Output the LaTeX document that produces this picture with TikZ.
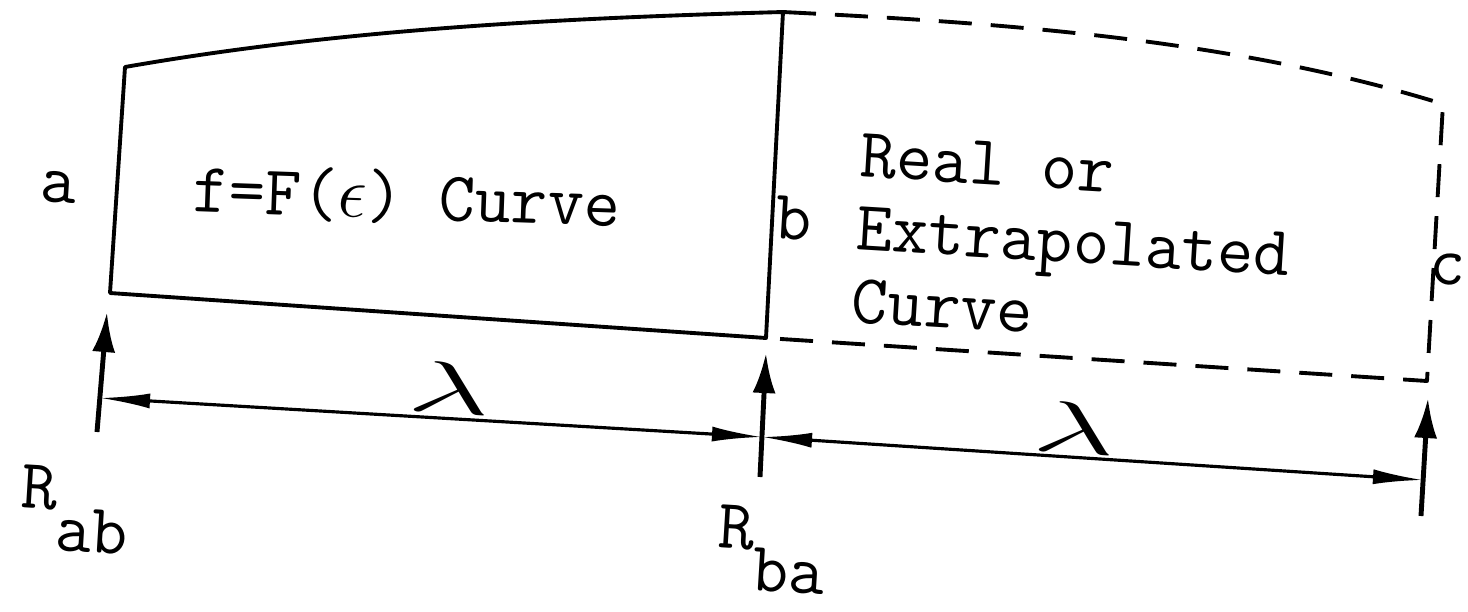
\documentclass[tikz,border=0pt]{standalone}
\usepackage{graphicx}
\usetikzlibrary{arrows.meta}
\begin{document}
\begin{tikzpicture}[
  x=0.01cm, y=0.01cm,
  font=\ttfamily\fontsize{20}{20.7}\selectfont,
  edge/.style={line width=1.1pt, line join=round},
  ext/.style={edge, dash pattern=on 0.33cm off 0.19cm},
  react/.style={line width=1.4pt, -{Latex[length=4mm,width=2.3mm]}},
  dim/.style={line width=0.9pt, {Latex[length=5mm,width=1.5mm]}-{Latex[length=5mm,width=1.5mm]}},
  lbl/.style={inner sep=0pt, rotate=-3.5}
]
\useasboundingbox (0,0) rectangle (1468,-611);
\coordinate (A1) at (125,-67);
\coordinate (A0) at (110,-293);
\coordinate (B1) at (783,-12);
\coordinate (B0) at (766,-338);
\coordinate (C1) at (1443,-104);
\coordinate (C0) at (1427,-381);
\coordinate (ra0) at (97,-432);
\coordinate (ra1) at (107,-312);
\coordinate (rb0) at (760,-477);
\coordinate (rb1) at (766,-353);
\coordinate (rc0) at (1421,-516);
\coordinate (rc1) at (1428,-398);
\coordinate (da) at (100,-398);
\coordinate (db) at (762,-437);
\coordinate (dc) at (1423,-480);
\draw[edge] (A0) -- (A1) .. controls (342,-29) and (563,-18) .. (B1) -- (B0) -- cycle;
\draw[ext] (B1) .. controls (1003,-23) and (1233,-39) .. (C1) -- (C0) -- (B0);
\draw[react] (ra0) -- (ra1);
\draw[react] (rb0) -- (rb1);
\draw[react] (rc0) -- (rc1);
\draw[dim] (da) -- (db);
\draw[dim] (db) -- (dc);
\node[lbl, anchor=base] (la) at (58,-203) {a};
\node[lbl, anchor=base, rotate=1.5] (lf) at (406,-219) {f=F($\epsilon$) Curve};
\node[lbl, anchor=base] (lb) at (793,-240) {b};
\node[lbl, anchor=base west, align=left] (lreal) at (850,-322)
  {Real or\\Extrapolated\\Curve};
\node[lbl, anchor=base] (lc) at (1447,-285) {c};
\node[lbl] (lam1) at (450,-388) {\scalebox{2}[1]{$\lambda$}};
\node[lbl] (lam2) at (1075,-428) {\scalebox{2}[1]{$\lambda$}};
\node[lbl, anchor=base west] (Rab) at (20,-507) {R\raisebox{-0.41cm}{ab}};
\node[lbl, anchor=base west] (Rba) at (717,-547) {R\raisebox{-0.41cm}{ba}};
\end{tikzpicture}
\end{document}
